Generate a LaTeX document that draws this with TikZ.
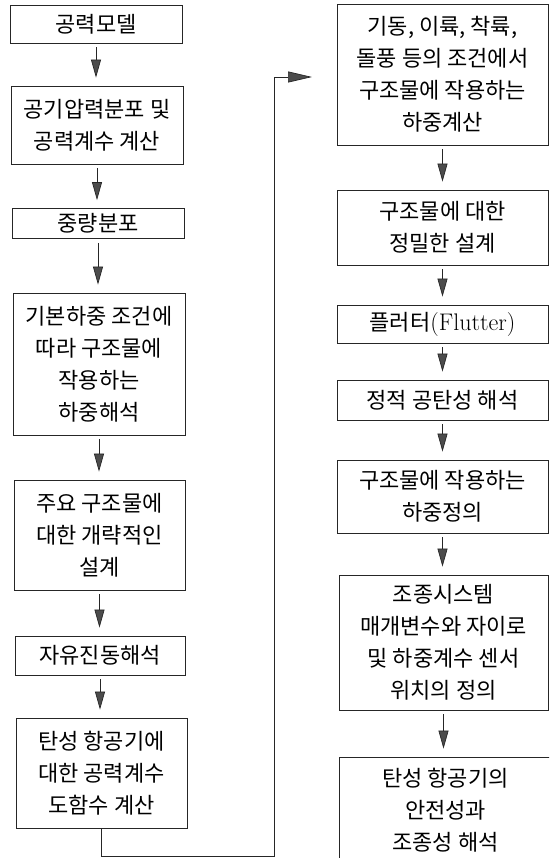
\documentclass[tikz,border=0pt]{standalone}
\usepackage{fontspec}
\newfontfamily\cjk{Noto Sans CJK KR}
\usetikzlibrary{arrows.meta}
\tikzset{
  box/.style={draw=black!85, line width=0.8pt, inner sep=0pt, align=center,
    font=\cjk\fontsize{22pt}{32pt}\selectfont},
  flow/.style={draw=black!85, line width=0.7pt,
    -{Triangle[length=18pt,width=10pt,fill=black!70]}},
  link/.style={draw=black!85, line width=0.7pt}
}
\begin{document}
\begin{tikzpicture}[x=1pt,y=-1pt]
\useasboundingbox (0,0) rectangle (549,858);
\clip (0,0) rectangle (549,858);
% left column
\node[box, minimum width=172pt, minimum height=38pt] (b1) at (96,24) {공력모델};
\node[box, minimum width=172pt, minimum height=78pt] (b2) at (97,125) {공기압력분포 및\\공력계수 계산};
\node[box, minimum width=172pt, minimum height=30pt] (b3) at (98,223.5) {중량분포};
\node[box, minimum width=172pt, minimum height=142pt] (b4) at (99,364) {기본하중 조건에\\따라 구조물에\\작용하는\\하중해석};
\node[box, minimum width=171pt, minimum height=110pt] (b5) at (99.5,535) {주요 구조물에\\대한 개략적인\\설계};
\node[box, minimum width=170pt, minimum height=39pt] (b6) at (100,655.5) {자유진동해석};
\node[box, minimum width=171pt, minimum height=110pt] (b7) at (101.5,773) {탄성 항공기에\\대한 공력계수\\도함수 계산};
% right column
\node[box, minimum width=211pt, minimum height=141pt] (r1) at (442.5,74.5) {기동, 이륙, 착륙,\\돌풍 등의 조건에서\\구조물에 작용하는\\하중계산};
\node[box, minimum width=211pt, minimum height=75pt] (r2) at (442.5,227.5) {구조물에 대한\\정밀한 설계};
\node[box, minimum width=211pt, minimum height=38pt] (r3) at (442.5,324) {플러터{\rmfamily\fontsize{24pt}{28pt}\selectfont (Flutter)}};
\node[box, minimum width=211pt, minimum height=40pt] (r4) at (442.5,400) {정적 공탄성 해석};
\node[box, minimum width=211pt, minimum height=73pt] (r5) at (442.5,496.5) {구조물에 작용하는\\하중정의};
\node[box, minimum width=209pt, minimum height=135pt] (r6) at (443.5,642.5) {조종시스템\\매개변수와 자이로\\및 하중계수 센서\\위치의 정의};
\node[box, minimum width=213pt, minimum height=107pt] (r7) at (445.5,810.5) {탄성 항공기의\\안전성과\\조종성 해석};
% arrows
\foreach \a/\b in {b1/b2,b2/b3,b3/b4,b4/b5,b5/b6,b6/b7,r1/r2,r2/r3,r3/r4,r4/r5,r5/r6,r6/r7}{
  \draw[flow, shorten <=4pt, shorten >=8pt] (\a.south) -- (\a.south |- \b.north);
}
% connector
\coordinate (cb) at (274,856);
\coordinate (ct) at (274,77);
\coordinate (tipR) at (312,77);
\draw[link] (b7.south) |- (cb) -- (ct);
\draw[flow, -{Triangle[length=24pt,width=11pt,fill=black!70]}] (ct) -- (tipR);
\end{tikzpicture}
\end{document}
